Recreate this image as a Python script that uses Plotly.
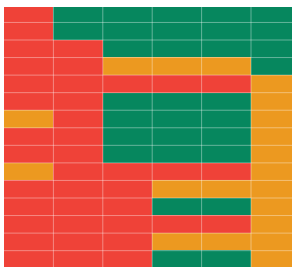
import plotly.graph_objects as go

# Column and row labels (labels themselves are clipped out of the reference view)
columns = ["C1", "C2", "C3", "C4", "C5", "C6"]
rows = ["R1", "R2", "R3", "R4", "R5", "R6", "R7", "R8", "R9", "R10",
        "R11", "R12", "R13", "R14", "R15"]

# Status per cell: R = red, O = orange, G = green
row_r1 = ["R", "G", "G", "G", "G", "G"]
row_r2 = ["R", "G", "G", "G", "G", "G"]
row_r3 = ["R", "R", "G", "G", "G", "G"]
row_r4 = ["R", "R", "O", "O", "O", "G"]
row_r5 = ["R", "R", "R", "R", "R", "O"]
row_r6 = ["R", "R", "G", "G", "G", "O"]
row_r7 = ["O", "R", "G", "G", "G", "O"]
row_r8 = ["R", "R", "G", "G", "G", "O"]
row_r9 = ["R", "R", "G", "G", "G", "O"]
row_r10 = ["O", "R", "R", "R", "R", "O"]
row_r11 = ["R", "R", "R", "O", "O", "O"]
row_r12 = ["R", "R", "R", "G", "G", "O"]
row_r13 = ["R", "R", "R", "R", "R", "O"]
row_r14 = ["R", "R", "R", "O", "O", "O"]
row_r15 = ["R", "R", "R", "G", "G", "O"]

status = [row_r1, row_r2, row_r3, row_r4, row_r5, row_r6, row_r7, row_r8,
          row_r9, row_r10, row_r11, row_r12, row_r13, row_r14, row_r15]

code = {"R": 0, "O": 1, "G": 2}
z = [[code[s] for s in r] for r in status]

RED = "rgb(239,66,56)"
ORANGE = "rgb(236,153,32)"
GREEN = "rgb(6,135,94)"

fig = go.Figure(go.Heatmap(
    z=z,
    x=list(range(len(columns))),
    y=list(range(len(rows))),
    zmin=0, zmax=2,
    colorscale=[[0, RED], [1/3, RED], [1/3, ORANGE], [2/3, ORANGE],
                [2/3, GREEN], [1, GREEN]],
    showscale=False,
    hoverinfo="skip",
))

shapes = []
line_style = dict(color="rgba(255,255,255,0.38)", width=1)
for i in range(len(columns) - 1):
    shapes.append(dict(type="line", xref="x", yref="y",
                       x0=i + 0.5, x1=i + 0.5, y0=-0.5, y1=len(rows) - 0.5,
                       line=line_style, layer="above"))
for j in range(len(rows) - 1):
    shapes.append(dict(type="line", xref="x", yref="y",
                       x0=-0.5, x1=len(columns) - 0.5, y0=j + 0.5, y1=j + 0.5,
                       line=line_style, layer="above"))

fig.update_layout(
    width=292, height=270,
    margin=dict(l=4, r=0, t=7, b=3, pad=0),
    paper_bgcolor="white", plot_bgcolor="white",
    shapes=shapes,
    showlegend=False,
)
fig.update_xaxes(range=[-0.5, 5.33], showticklabels=False, showgrid=False,
                 zeroline=False, ticks="", fixedrange=True)
fig.update_yaxes(range=[14.43, -0.38], showticklabels=False, showgrid=False,
                 zeroline=False, ticks="", fixedrange=True)

fig.write_html(
    "out.html",
    config={"displayModeBar": False},
    post_script="document.body.style.margin='0';document.body.style.overflow='hidden';",
)
